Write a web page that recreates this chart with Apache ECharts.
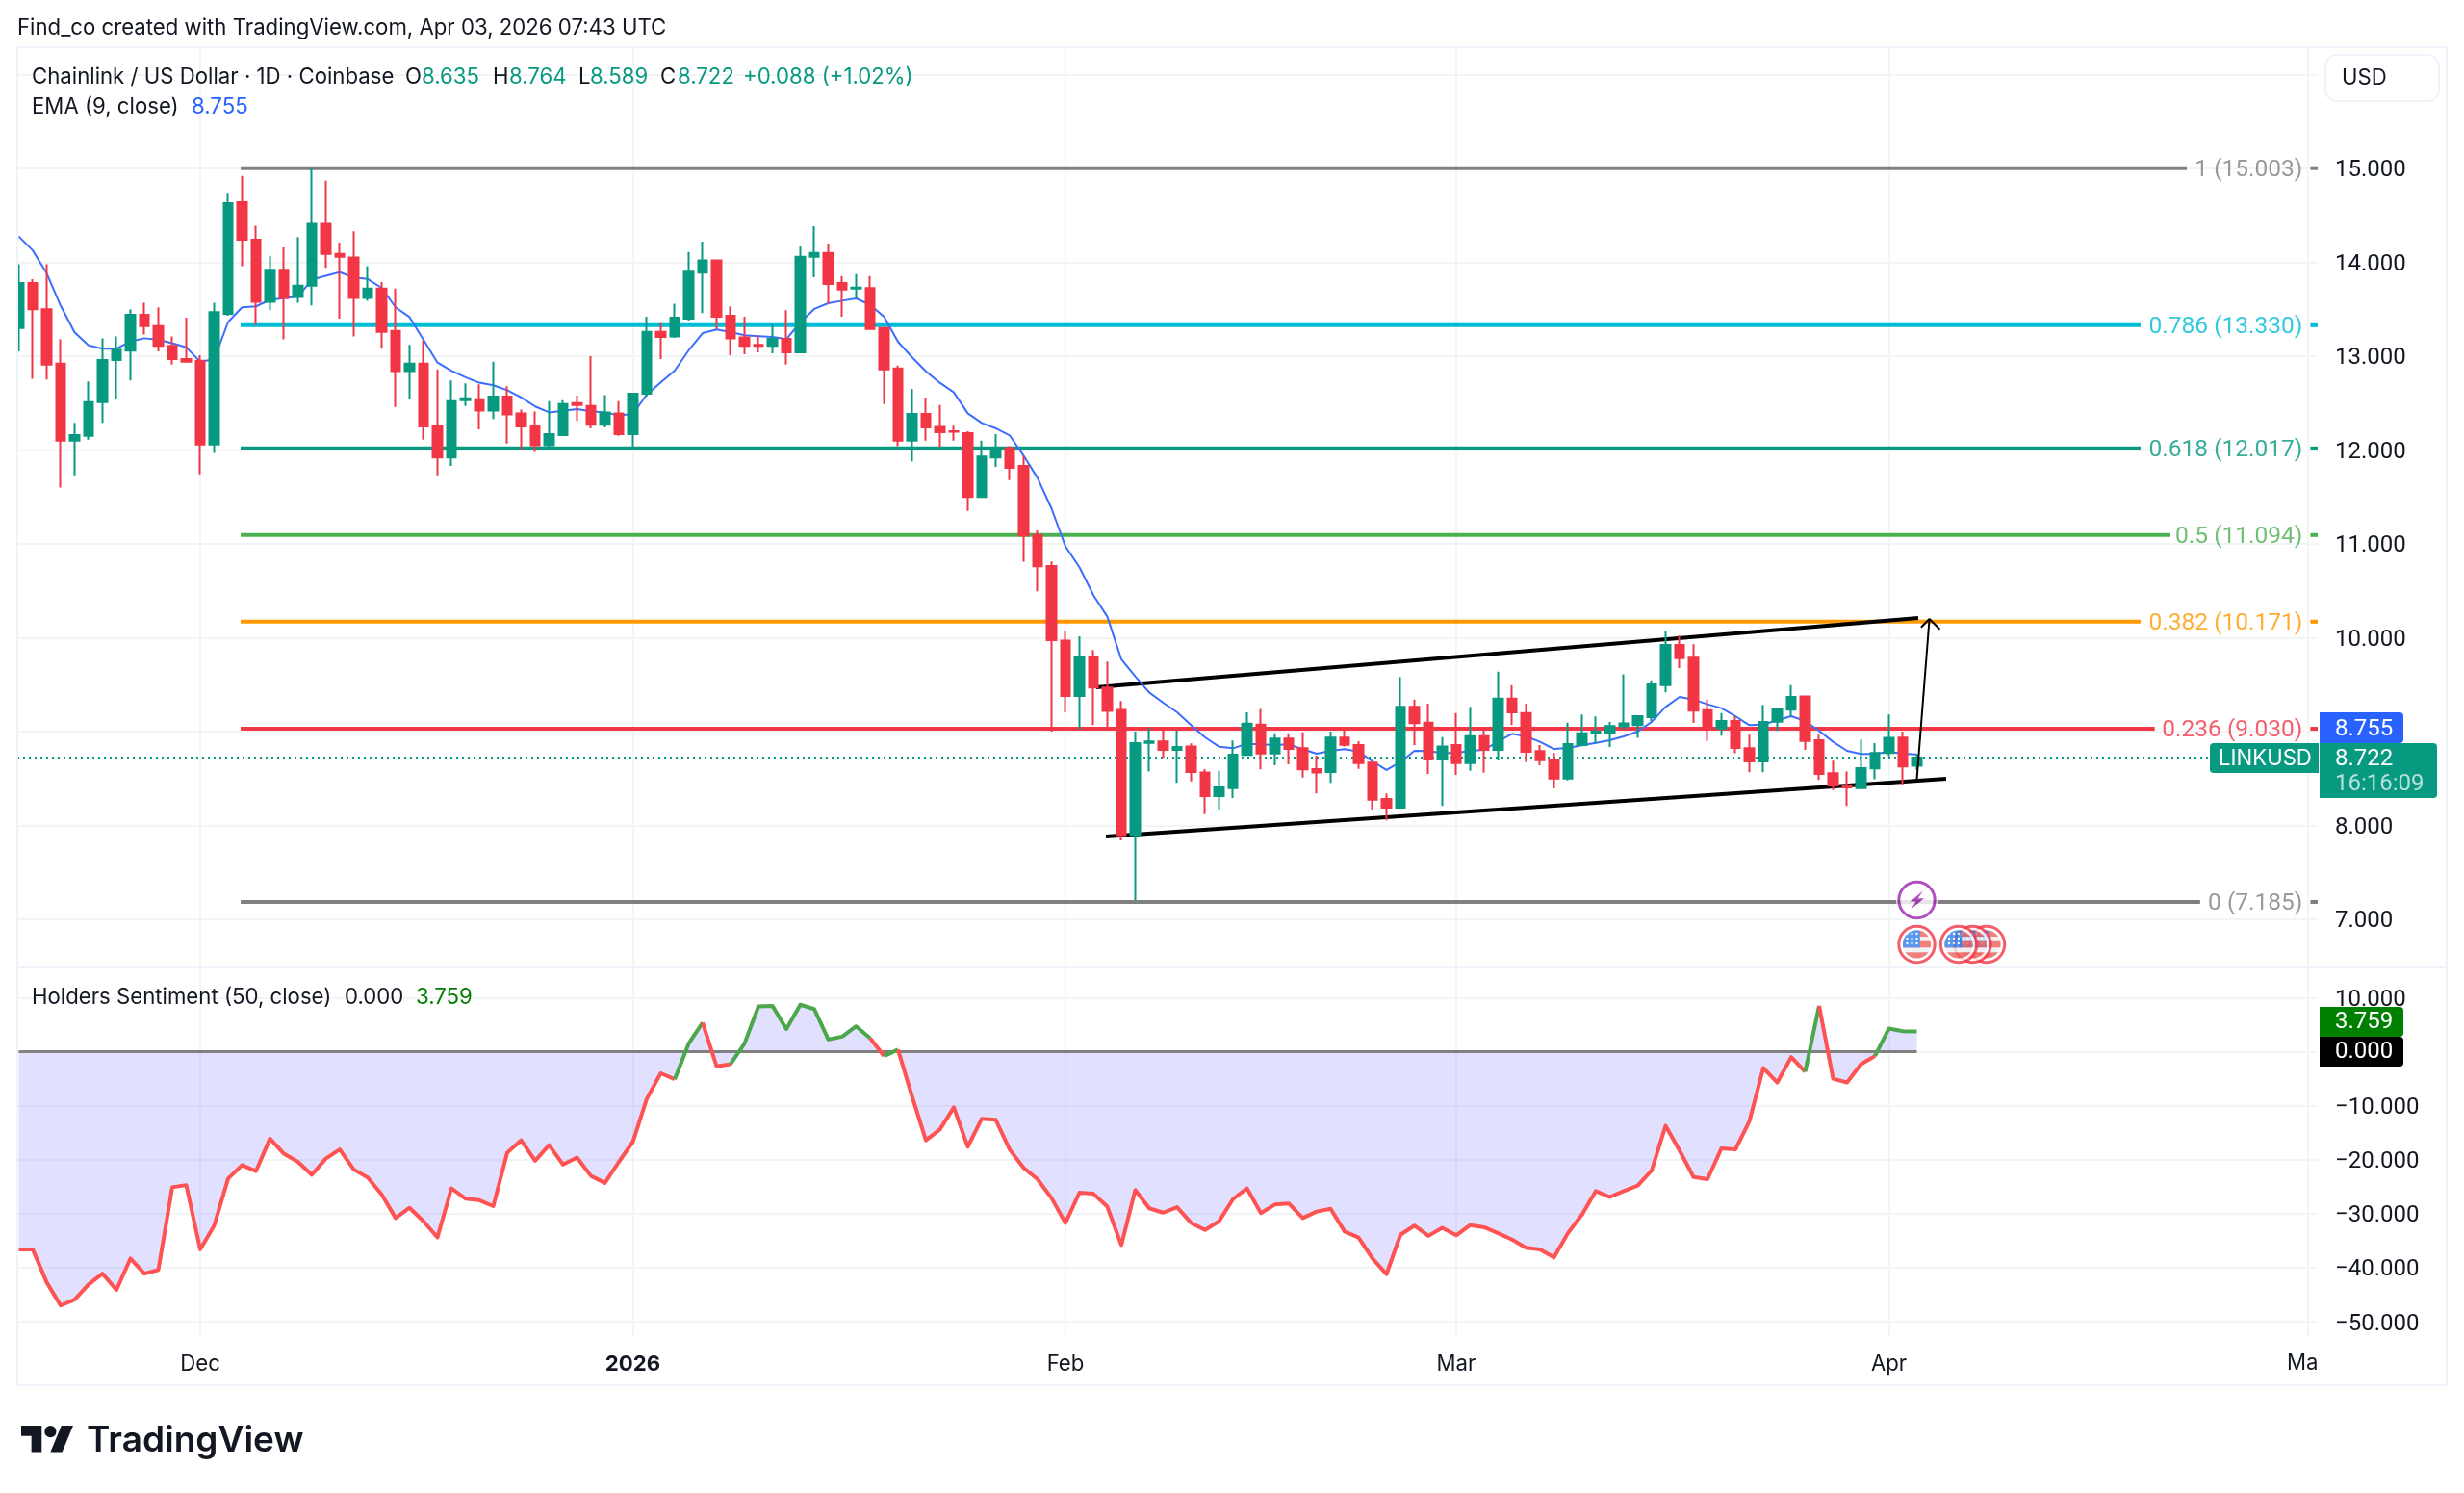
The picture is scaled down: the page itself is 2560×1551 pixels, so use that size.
<!DOCTYPE html>
<html>
<head>
<meta charset="utf-8">
<title>LINKUSD daily</title>
<script src="https://cdn.jsdelivr.net/npm/echarts@6/dist/echarts.min.js"></script>
<style>
  html, body { margin: 0; padding: 0; background: #ffffff; }
  #chart { width: 2560px; height: 1551px; }
</style>
</head>
<body>
<div id="chart"></div>
<script>
// Daily LINK/USD bars, first session 2025-11-18, one entry per day.
const opens = [13.30,13.78,13.50,12.92,12.10,12.15,12.51,12.96,13.06,13.44,13.32,13.11,12.97,12.95,12.06,13.45,14.64,14.24,13.58,13.92,13.63,13.75,14.41,14.09,14.05,13.62,13.72,13.27,12.84,12.92,12.26,11.92,12.53,12.54,12.42,12.57,12.39,12.26,12.05,12.16,12.50,12.47,12.27,12.39,12.17,12.60,13.26,13.21,13.40,13.89,14.02,13.43,13.20,13.12,13.11,13.185,13.04,14.06,14.10,13.78,13.72,13.725,13.30,12.87,12.10,12.385,12.245,12.20,12.18,11.50,11.92,12.02,11.83,11.096,10.765,9.97,9.38,9.80,9.47,9.23,7.896,8.88,8.894,8.805,8.84,8.565,8.313,8.398,8.75,9.075,8.767,8.925,8.822,8.60,8.569,8.935,8.857,8.668,8.282,8.19,9.263,9.096,8.703,8.857,8.665,8.952,8.805,9.352,9.198,8.791,8.696,8.501,8.857,8.99,8.986,9.055,9.068,9.154,9.496,9.923,9.786,9.229,9.034,9.113,8.822,8.682,9.106,9.233,9.373,8.908,8.556,8.423,8.398,8.607,8.771,8.935,8.635];
const highs = [13.98,13.82,13.98,13.18,12.29,12.73,13.19,13.21,13.50,13.57,13.52,13.21,13.41,13.01,13.57,14.73,14.92,14.39,14.07,14.16,14.27,15.00,14.87,14.21,14.33,13.96,13.79,13.72,13.12,13.17,12.86,12.74,12.71,12.70,12.94,12.68,12.43,12.41,12.52,12.53,12.58,13.00,12.585,12.52,12.60,13.42,13.35,13.56,14.11,14.22,14.03,13.53,13.42,13.22,13.34,13.49,14.17,14.385,14.20,13.855,13.875,13.855,13.30,12.90,12.65,12.56,12.48,12.26,12.20,12.10,12.17,12.04,11.94,11.144,10.812,10.067,10.015,9.87,9.745,9.325,9.00,9.04,9.03,9.01,8.873,8.60,8.583,8.904,9.205,9.24,8.983,8.983,8.993,8.743,9.00,9.034,8.897,8.668,8.34,9.581,9.342,9.297,8.942,9.198,9.263,9.017,9.639,9.496,9.297,8.856,8.771,9.096,9.181,9.161,9.103,9.609,9.171,9.547,10.077,10.026,9.93,9.342,9.198,9.164,8.966,9.284,9.257,9.496,9.38,8.966,8.689,8.573,8.915,8.877,9.181,9.00,8.764];
const lows = [13.05,12.76,12.75,11.60,11.73,12.11,12.29,12.54,12.74,13.23,13.05,12.91,12.94,11.74,11.97,13.43,13.96,13.33,13.49,13.18,13.57,13.54,13.94,13.40,13.21,13.59,13.08,12.46,12.54,12.11,11.73,11.83,12.47,12.22,12.33,12.07,12.01,11.98,12.02,12.15,12.31,12.23,12.24,12.15,12.03,12.57,12.97,13.195,13.38,13.46,13.29,13.01,13.02,13.04,13.03,12.91,13.03,13.84,13.56,13.42,13.615,13.29,12.49,12.04,11.88,12.10,12.03,12.10,11.35,11.49,11.82,11.68,10.81,10.494,9.00,9.205,9.02,9.07,9.03,7.84,7.205,8.573,8.72,8.453,8.47,8.12,8.169,8.292,8.75,8.597,8.641,8.651,8.511,8.34,8.453,8.84,8.603,8.169,8.053,8.19,8.853,8.549,8.207,8.538,8.583,8.562,8.692,9.068,8.675,8.641,8.395,8.48,8.857,8.874,8.836,9.024,8.932,9.109,9.417,9.677,9.092,8.901,8.956,8.768,8.566,8.566,9.007,9.164,8.805,8.484,8.378,8.207,8.398,8.491,8.737,8.429,8.589];
const closes = [13.78,13.50,12.91,12.10,12.16,12.51,12.96,13.07,13.44,13.32,13.11,12.97,12.94,12.06,13.47,14.63,14.24,13.58,13.92,13.62,13.75,14.41,14.09,14.06,13.62,13.72,13.26,12.84,12.92,12.25,11.92,12.52,12.55,12.42,12.57,12.38,12.25,12.05,12.17,12.49,12.48,12.27,12.40,12.17,12.60,13.26,13.205,13.41,13.90,14.02,13.42,13.19,13.11,13.11,13.185,13.04,14.06,14.10,13.77,13.71,13.73,13.29,12.86,12.10,12.385,12.24,12.19,12.195,11.50,11.93,12.02,11.81,11.09,10.761,9.975,9.38,9.80,9.47,9.22,7.896,8.877,8.894,8.805,8.836,8.57,8.313,8.405,8.754,9.085,8.767,8.925,8.815,8.597,8.565,8.935,8.86,8.665,8.275,8.19,9.263,9.089,8.703,8.84,8.665,8.952,8.805,9.352,9.205,8.785,8.696,8.501,8.867,8.983,9.00,9.058,9.086,9.164,9.503,9.923,9.783,9.222,9.034,9.113,8.826,8.682,9.103,9.236,9.369,8.901,8.549,8.426,8.405,8.61,8.771,8.932,8.628,8.722];

// EMA(9) of the close, one value per session.
const emaValues = [14.276,14.127,13.884,13.538,13.254,13.115,13.08,13.08,13.157,13.191,13.174,13.139,13.094,12.942,12.966,13.364,13.52,13.531,13.6,13.617,13.635,13.815,13.857,13.895,13.839,13.822,13.728,13.52,13.416,13.174,12.931,12.845,12.775,12.717,12.689,12.637,12.561,12.464,12.401,12.419,12.436,12.412,12.401,12.368,12.385,12.59,12.72,12.846,13.062,13.246,13.284,13.256,13.222,13.212,13.205,13.181,13.359,13.503,13.564,13.591,13.615,13.547,13.42,13.154,12.99,12.839,12.716,12.614,12.391,12.289,12.231,12.156,11.94,11.701,11.377,10.973,10.751,10.453,10.224,9.77,9.588,9.417,9.308,9.205,9.068,8.938,8.839,8.822,8.87,8.863,8.856,8.863,8.812,8.764,8.795,8.812,8.788,8.682,8.59,8.675,8.795,8.791,8.771,8.771,8.795,8.805,8.897,8.976,8.949,8.891,8.815,8.825,8.853,8.88,8.908,8.949,9.0,9.103,9.263,9.369,9.342,9.291,9.25,9.164,9.068,9.075,9.12,9.164,9.113,9.007,8.891,8.795,8.761,8.761,8.785,8.764,8.755];

// Holders Sentiment (50, close), one value per session.
const sentimentValues = [-36.6,-36.6,-42.7,-47.0,-45.9,-43.1,-41.1,-44.1,-38.3,-41.1,-40.4,-25.1,-24.7,-36.6,-32.2,-23.5,-21.0,-22.1,-16.1,-18.9,-20.4,-22.8,-19.8,-18.1,-21.8,-23.3,-26.4,-30.8,-28.9,-31.4,-34.4,-25.3,-27.2,-27.5,-28.6,-18.7,-16.4,-20.2,-17.3,-20.9,-19.6,-23.0,-24.3,-20.4,-16.7,-8.7,-4.0,-5.1,1.5,5.4,-2.7,-2.3,1.5,8.4,8.5,4.2,8.7,7.9,2.3,2.8,4.7,2.5,-0.8,0.4,-8.2,-16.4,-14.4,-10.3,-17.6,-12.4,-12.6,-18.1,-21.5,-23.6,-27.1,-31.7,-26.1,-26.3,-28.7,-35.8,-25.6,-29.0,-29.8,-28.8,-31.7,-33.0,-31.4,-27.3,-25.3,-29.9,-28.3,-28.1,-30.8,-29.6,-29.1,-33.3,-34.4,-38.3,-41.2,-33.9,-32.2,-34.1,-32.6,-34.0,-32.1,-32.5,-33.6,-34.8,-36.3,-36.6,-38.1,-33.6,-30.2,-25.8,-26.9,-25.8,-24.8,-22.0,-13.7,-18.3,-23.2,-23.6,-17.9,-18.1,-12.9,-3.0,-5.7,-1.0,-3.7,8.5,-5.0,-5.7,-2.3,-0.8,4.3,3.8,3.759];

// Fibonacci retracement: ratios, prices and where each level's line stops (sessions after the first bar).
const fibRatios = ['1','0.786','0.618','0.5','0.382','0.236','0'];
const fibPrices = [15.003,13.330,12.017,11.094,10.171,9.030,7.185];
const fibColors = ['#808080','#00BCD4','#089981','#4CAF50','#FF9800','#F23645','#808080'];
const fibLineEnds = [155.35,152.03,152.03,154.17,152.03,153.05,156.3];
const fibStartDay = 15.9;

// Hand-drawn channel and target arrow: [sessions after the first bar, price].
const upperChannel = [[77.2,9.472],[136.1,10.21]];
const lowerChannel = [[77.9,7.882],[138.1,8.497]];
const targetArrow = [[136.0,8.487],[136.9,10.20]];
const targetArrowHead = [[136.3,10.11],[136.9,10.20],[137.65,10.09]];

// Calendar events on the same scale.
const flashEventDays = [136];
const flashEventLevel = 7.205;
const flagEventDays = [141,140,139,136];
const flagEventLevel = 6.733;

// Axis ticks and labels: the x axis counts days from 18 Nov 2025.
const priceTicks = [7,8,9,10,11,12,13,14,15,16];
const priceTickLabels = [7,8,9,10,11,12,13,14,15];
const sentimentTicks = [10,0,-10,-20,-30,-40,-50];
const monthTicks = [13,44,75,103,134,164];
const monthTickNames = ['Dec','2026','Feb','Mar','Apr'];

const lastPrice = 8.722;
const FONT = 'Inter, "Noto Sans", sans-serif';
const NUM_FONT = 'Roboto, Inter, sans-serif';
const GREEN = '#089981', RED = '#F23645', TEXT = '#131722', FRAME = '#F0F3FA', GRIDLINE = '#F3F4F6';
const TEXT_SIZE = 22.2, NUM_SIZE = 24;

const xMin = -0.103, xMax = 164.724;
const dates = closes.map((_, i) => i);

const plainLine = (name, data, color, width, extra) => Object.assign({
  name, type: 'line', data, symbol: 'none', silent: true, animation: false,
  lineStyle: { color, width, cap: 'butt' }, z: 2
}, extra || {});

// Event badges are small inline SVG symbols.
const svgSymbol = body => 'image://data:image/svg+xml;utf8,' + encodeURIComponent(
  '<svg xmlns="http://www.w3.org/2000/svg" width="46" height="46" viewBox="-23 -23 46 46">' + body + '</svg>');
const flashSymbol = svgSymbol(
  '<circle r="21.5" fill="#fff"/><circle r="18.7" fill="#fff" stroke="#9C27B0" stroke-width="3"/>' +
  '<polygon points="6.5,-9.5 -7,1.5 -1,1.5 -6,9.5 7.5,-1.8 1.2,-1.8" fill="#9C27B0"/>');
let canton = '';
[-11, -6, -1].forEach(y => [-10, -5, 0].forEach(x => { canton += `<circle cx="${x}" cy="${y}" r="1.2" fill="#fff"/>`; }));
const flagSymbol = svgSymbol(
  '<defs><clipPath id="c"><circle r="14.6"/></clipPath></defs>' +
  '<circle r="18.7" fill="#fff" stroke="#F23645" stroke-width="3"/>' +
  '<g clip-path="url(#c)"><rect x="-15" y="-15" width="30" height="30" fill="#EDEFF2"/>' +
  '<rect x="-15" y="-15" width="30" height="7" fill="#F0605A"/>' +
  '<rect x="-15" y="-3.3" width="30" height="6.6" fill="#F0605A"/>' +
  '<rect x="-15" y="8.3" width="30" height="7" fill="#F0605A"/>' +
  '<rect x="-15" y="-15" width="18.3" height="18.3" fill="#2F7FEB"/>' + canton + '</g>');

// Fibonacci lines, their right-hand dashes and their text.
const fibSeries = [];
fibPrices.forEach((p, i) => {
  fibSeries.push(plainLine('fib ' + fibRatios[i], [[fibStartDay, p], [fibLineEnds[i], p]], fibColors[i], 4));
  fibSeries.push(plainLine('fib dash ' + fibRatios[i], [[164.2, p], [xMax, p]], fibColors[i], 4));
});
const fibLabelSeries = {
  name: 'fib labels', type: 'scatter', symbolSize: 0, silent: true, animation: false, z: 4,
  data: fibPrices.map((p, i) => ({
    value: [164.2, p],
    label: {
      show: true, position: 'left', distance: 8, offset: [0, 2], color: fibColors[i],
      fontFamily: NUM_FONT, fontSize: 24.5,
      formatter: `${fibRatios[i]} (${p.toFixed(3)})`
    }
  }))
};

// The sentiment line changes colour by segment: green while the segment ends above zero.
const sentimentRuns = [];
for (let i = 0; i + 1 < sentimentValues.length; i++) {
  const up = sentimentValues[i + 1] > 0;
  const last = sentimentRuns[sentimentRuns.length - 1];
  if (last && last.up === up) last.points.push([dates[i + 1], sentimentValues[i + 1]]);
  else sentimentRuns.push({ up, points: [[dates[i], sentimentValues[i]], [dates[i + 1], sentimentValues[i + 1]]] });
}
const sentimentSeries = sentimentRuns.map((r, k) => plainLine('sentiment ' + k, r.points, r.up ? '#4CA64C' : '#FF5252', 4, {
  xAxisIndex: 1, yAxisIndex: 1, z: 4, lineStyle: { color: r.up ? '#4CA64C' : '#FF5252', width: 4, join: 'round' }
}));

const txt = (text, x, y, fill, size, weight, family) => ({
  type: 'text', z: 101, silent: true,
  style: {
    text, x, y, fill, fontFamily: family || FONT, fontSize: size, fontWeight: weight || 400,
    align: 'left', verticalAlign: 'middle'
  }
});
const num = (text, x, y, fill) => txt(text, x, y, fill, NUM_SIZE, 400, NUM_FONT);
const box = (x, y, width, height, fill, r) => ({
  type: 'rect', z: 100, silent: true, shape: { x, y, width, height, r: r || 0 }, style: { fill }
});
const rule = (x1, y1, x2, y2) => ({
  type: 'line', z: 1, silent: true, shape: { x1, y1, x2, y2 }, style: { stroke: FRAME, lineWidth: 2 }
});

// Brand mark: square-stemmed T, dot and slanted stroke, scaled from a 36-unit outline.
const logoScale = 1.52, logoX = 22, logoY = 1475;
const logoPoint = p => [logoX + p[0] * logoScale, logoY + p[1] * logoScale];
const logoT = [[14,22],[7,22],[7,11],[0,11],[0,4],[14,4]].map(logoPoint);
const logoStroke = [[28,22],[20,22],[27.5,4],[35.5,4]].map(logoPoint);

const graphicItems = [
  // Bars that start before the pane's left edge are masked at the frame.
  box(0, 48, 18, 958, '#ffffff'),
  { type: 'rect', z: 100, silent: true, shape: { x: 18, y: 49, width: 2524, height: 1390 }, style: { fill: 'none', stroke: FRAME, lineWidth: 2 } },
  rule(18, 1005, 2542, 1005),
  txt('Find_co created with TradingView.com, Apr 03, 2026 07:43 UTC', 18, 29, TEXT, TEXT_SIZE),
  txt('Chainlink / US Dollar · 1D · Coinbase', 33, 80, TEXT, TEXT_SIZE),
  txt('O', 421, 80, TEXT, TEXT_SIZE), txt('8.635', 438, 80, GREEN, TEXT_SIZE),
  txt('H', 512, 80, TEXT, TEXT_SIZE), txt('8.764', 529, 80, GREEN, TEXT_SIZE),
  txt('L', 601, 80, TEXT, TEXT_SIZE), txt('8.589', 613, 80, GREEN, TEXT_SIZE),
  txt('C', 686, 80, TEXT, TEXT_SIZE), txt('8.722', 704, 80, GREEN, TEXT_SIZE),
  txt('+0.088 (+1.02%)', 772, 80, GREEN, TEXT_SIZE),
  txt('EMA (9, close)', 33, 111, TEXT, TEXT_SIZE), txt('8.755', 199, 111, '#2962FF', TEXT_SIZE),
  txt('Holders Sentiment (50, close)', 33, 1036, TEXT, TEXT_SIZE),
  txt('0.000', 358, 1036, TEXT, TEXT_SIZE), txt('3.759', 432, 1036, '#008000', TEXT_SIZE),
  { type: 'rect', z: 100, silent: true, shape: { x: 2416, y: 57, width: 118, height: 48, r: 12 }, style: { fill: '#fff', stroke: FRAME, lineWidth: 2 } },
  txt('USD', 2433, 81, TEXT, TEXT_SIZE),
  box(2410, 740, 87, 32, '#2962FF', [0, 4, 4, 0]), num('8.755', 2426, 758, '#fff'),
  box(2410, 772, 122, 57, GREEN, [0, 4, 4, 0]), num('8.722', 2426, 789, '#fff'),
  num('16:16:09', 2426, 815, 'rgba(255,255,255,0.7)'),
  box(2296, 772, 113, 31, GREEN, [4, 0, 0, 4]), txt('LINKUSD', 2305, 788, '#fff', TEXT_SIZE),
  box(2410, 1046, 87, 31, '#008000', [0, 4, 4, 0]), num('3.759', 2426, 1062, '#fff'),
  box(2410, 1077, 87, 31, '#000000', [0, 4, 4, 0]), num('0.000', 2426, 1093, '#fff'),
  txt('Ma', 2376, 1416, TEXT, TEXT_SIZE),
  { type: 'polygon', z: 100, silent: true, shape: { points: logoT }, style: { fill: TEXT } },
  { type: 'polygon', z: 100, silent: true, shape: { points: logoStroke }, style: { fill: TEXT } },
  { type: 'circle', z: 100, silent: true, shape: { cx: logoX + 20 * logoScale, cy: logoY + 8 * logoScale, r: 4 * logoScale }, style: { fill: TEXT } },
  txt('TradingView', 90, 1497, TEXT, 37, 600)
];

const dayAxisBase = {
  type: 'value', min: xMin, max: xMax, scale: true,
  axisLine: { show: false },
  axisTick: { show: false, customValues: monthTicks },
  splitLine: { show: true, lineStyle: { color: GRIDLINE, width: 2 } },
  axisPointer: { show: false }
};
const valueAxisBase = {
  type: 'value', position: 'right', scale: true,
  axisLine: { show: false },
  splitLine: { show: true, lineStyle: { color: GRIDLINE, width: 2 } }
};

// Price-scale labels sit slightly below their gridline.
const scaleRich = { n: { color: TEXT, fontFamily: NUM_FONT, fontSize: NUM_SIZE, padding: [5, 0, 0, 0] } };

const option = {
  backgroundColor: '#ffffff',
  animation: false,
  textStyle: { fontFamily: FONT },
  grid: [
    { left: 18, top: 50, width: 2390, height: 955 },
    { left: 18, top: 1005, width: 2390, height: 383 }
  ],
  xAxis: [
    Object.assign({}, dayAxisBase, { gridIndex: 0, axisLabel: { show: false } }),
    Object.assign({}, dayAxisBase, {
      gridIndex: 1,
      axisLabel: {
        show: true, margin: 18, color: TEXT, fontFamily: FONT, fontSize: TEXT_SIZE, hideOverlap: false,
        customValues: monthTicks.slice(0, monthTickNames.length),
        formatter: v => {
          const name = monthTickNames[monthTicks.indexOf(v)];
          return name === '2026' ? '{b|2026}' : name;
        },
        rich: { b: { fontWeight: 700, fontFamily: FONT, fontSize: TEXT_SIZE, color: TEXT } }
      }
    })
  ],
  yAxis: [
    Object.assign({}, valueAxisBase, {
      gridIndex: 0, min: 6.487, max: 16.282,
      axisTick: { show: false, customValues: priceTicks },
      axisLabel: {
        margin: 18, align: 'left', color: TEXT, fontFamily: NUM_FONT, fontSize: NUM_SIZE, rich: scaleRich,
        customValues: priceTickLabels, formatter: v => `{n|${v.toFixed(3)}}`
      }
    }),
    Object.assign({}, valueAxisBase, {
      gridIndex: 1, min: -52.66, max: 15.61,
      axisTick: { show: false, customValues: sentimentTicks },
      axisLabel: {
        margin: 18, align: 'left', color: TEXT, fontFamily: NUM_FONT, fontSize: NUM_SIZE, rich: scaleRich,
        customValues: sentimentTicks, formatter: v => `{n|${v.toFixed(3).replace('-', '\u2212')}}`
      }
    })
  ],
  series: [
    ...fibSeries,
    plainLine('last price', [[xMin, lastPrice], [156.9, lastPrice]], GREEN, 2, {
      lineStyle: { color: GREEN, width: 2, type: [2, 4] }, z: 3
    }),
    plainLine('upper channel', upperChannel, '#000000', 4, { z: 3 }),
    plainLine('lower channel', lowerChannel, '#000000', 4, { z: 3 }),
    plainLine('EMA 9', dates.map((d, i) => [d, emaValues[i]]), '#2962FF', 2, { z: 3, lineStyle: { color: '#3B6EFF', width: 2, join: 'round' } }),
    {
      name: 'LINKUSD', type: 'candlestick', silent: true, animation: false, z: 5, barWidth: 10,
      data: dates.map((d, i) => [d, opens[i], closes[i], lows[i], highs[i]]),
      itemStyle: { color: GREEN, color0: RED, borderColor: GREEN, borderColor0: RED, borderColorDoji: RED, borderWidth: 2 }
    },
    plainLine('target arrow', targetArrow, '#000000', 2, { z: 6 }),
    plainLine('target arrow head', targetArrowHead, '#000000', 2, { z: 6 }),
    fibLabelSeries,
    {
      name: 'flash events', type: 'scatter', silent: true, animation: false, z: 7, clip: false,
      symbol: flashSymbol, symbolSize: 46,
      data: flashEventDays.map(d => [d, flashEventLevel])
    },
    {
      name: 'economic events', type: 'scatter', silent: true, animation: false, z: 7, clip: false,
      symbol: flagSymbol, symbolSize: 46,
      data: flagEventDays.map(d => [d, flagEventLevel])
    },
    plainLine('sentiment area', dates.map((d, i) => [d, sentimentValues[i]]), '#E2E2FD', 0, {
      xAxisIndex: 1, yAxisIndex: 1, z: 2,
      lineStyle: { width: 0 },
      areaStyle: { origin: 0, color: 'rgba(75,80,255,0.17)', opacity: 1 }
    }),
    plainLine('sentiment zero', dates.map(d => [d, 0]), '#808080', 3, { xAxisIndex: 1, yAxisIndex: 1, z: 3 }),
    ...sentimentSeries
  ],
  graphic: graphicItems
};

const chart = echarts.init(document.getElementById('chart'), null, { renderer: 'canvas', width: 2560, height: 1551 });
chart.setOption(option);
</script>
</body>
</html>
